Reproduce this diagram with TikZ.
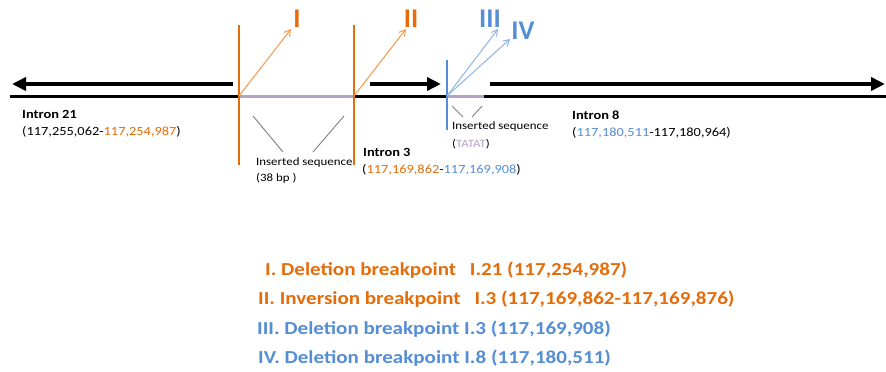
\documentclass[tikz,border=0pt]{standalone}
\usepackage{fontspec}
\setmainfont{Carlito}
\newfontfamily\widefont{Carlito}[FakeStretch=1.15]
\usetikzlibrary{arrows.meta}
\definecolor{brkorange}{RGB}{228,108,10}
\definecolor{brkblue}{RGB}{85,142,213}
\definecolor{litorange}{RGB}{247,150,70}
\definecolor{litblue}{RGB}{142,180,227}
\definecolor{lavender}{RGB}{179,162,199}
\begin{document}
\begin{tikzpicture}[x=1pt, y=-1pt, line join=round, >={Straight Barb[length=6pt,width=7pt]},
	intron/.style={anchor=west, inner sep=0, font=\widefont\fontsize{12.5}{15}\selectfont},
	small/.style={anchor=west, inner sep=0, font=\widefont\fontsize{11.2}{13}\selectfont},
	roman/.style={inner sep=0, font=\bfseries\fontsize{27}{30}\selectfont},
	legend/.style={anchor=west, inner sep=0, font=\widefont\bfseries\fontsize{18.3}{21}\selectfont},
	fat/.style={line width=4.5pt, -{Triangle[length=14pt,width=13pt]}}]
	\useasboundingbox (0,0) rectangle (886,372);
	\def \yb{96} \def \ya{84}
	\path
	(10,\yb) coordinate (L)
	(886,\yb) coordinate (R)
	(239,\yb) coordinate (A)
	(354,\yb) coordinate (B)
	(447,\yb) coordinate (C)
	(484,\yb) coordinate (D)
	(291,29) coordinate (tI)
	(406,29) coordinate (tII)
	(498,29) coordinate (tIII)
	(510,39) coordinate (tIV)
	;
	\draw[line width=3pt] (L)--(R);
	\foreach \x/\y in {A/B,C/D}
	\draw[lavender, line width=3pt] (\x)--(\y);
	\draw[fat] (233,\ya) coordinate (p1) -- (12,\ya) coordinate (p2);
	\draw[fat] (370,\ya) coordinate (p3) -- (441,\ya) coordinate (p4);
	\draw[fat] (490,\ya) coordinate (p5) -- (885,\ya) coordinate (p6);
	\foreach \x in {239,354}
	\draw[brkorange, line width=2.6pt] (\x,25)--(\x,165);
	\draw[brkblue, line width=2.6pt] (447,60)--(447,130);
	\foreach \x/\y in {A/tI,B/tII}
	\draw[litorange, line width=1pt, ->] (\x)--(\y);
	\foreach \y in {tIII,tIV}
	\draw[litblue, line width=1pt, ->] (C)--(\y);
	\foreach \a/\b in {253/283,344/313}
	\draw[gray, line width=0.9pt] (\a,116)--(\b,152);
	\foreach \a/\b in {452/463,482/472}
	\draw[gray, line width=0.9pt] (\a,106)--(\b,117);
	\node[roman, brkorange] (nI) at (297,19) {I};
	\node[roman, brkorange] (nII) at (411,19) {II};
	\node[roman, brkblue] (nIII) at (490,19) {III};
	\node[roman, brkblue] (nIV) at (523,31) {IV};
	\node[intron] (i21) at (22,114) {\bfseries Intron 21};
	\node[intron] (p21) at (22,132) {(117,255,062-\textcolor{brkorange}{117,254,987})};
	\node[intron] (i3) at (363,152) {\bfseries Intron 3};
	\node[intron] (p3) at (362,170) {(\textcolor{brkorange}{117,169,862}-\textcolor{brkblue}{117,169,908})};
	\node[intron] (i8) at (572,115) {\bfseries Intron 8};
	\node[intron] (p8) at (572,133) {(\textcolor{brkblue}{117,180,511}-117,180,964)};
	\node[small] (s1) at (256,163) {Inserted sequence};
	\node[small] (s2) at (256,178) {(38 bp )};
	\node[small] (s3) at (452,127) {Inserted sequence};
	\node[small] (s4) at (452,144) {(\textcolor{lavender}{TATAT})};
	\node[legend, brkorange] (g1) at (265,270) {I. Deletion breakpoint\hspace{0.75em}I.21 (117,254,987)};
	\node[legend, brkorange] (g2) at (258,299) {II. Inversion breakpoint\hspace{0.75em}I.3 (117,169,862-117,169,876)};
	\node[legend, brkblue] (g3) at (257,329) {III. Deletion breakpoint I.3 (117,169,908)};
	\node[legend, brkblue] (g4) at (258,358) {IV. Deletion breakpoint I.8 (117,180,511)};
\end{tikzpicture}
\end{document}
